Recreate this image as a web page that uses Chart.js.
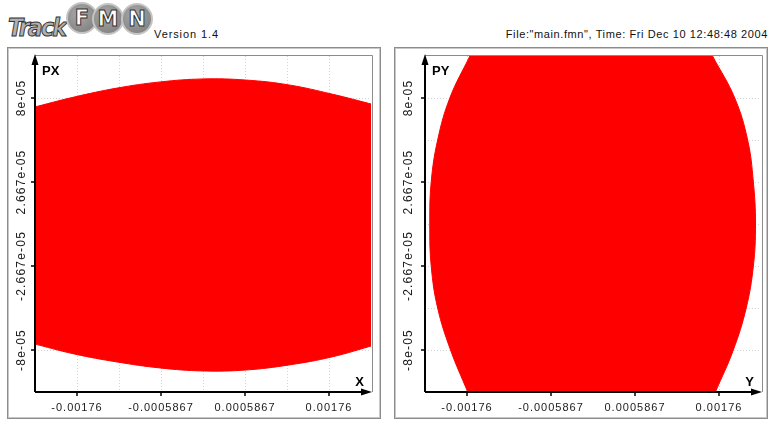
<!DOCTYPE html>
<html>
<head>
<meta charset="utf-8">
<script src="https://cdn.jsdelivr.net/npm/chart.js@4.4.0/dist/chart.umd.min.js"></script>
<style>
body { margin:0; width:769px; height:421px; background:#fff; position:relative; overflow:hidden; font-family:"Liberation Sans", Arial, sans-serif; }
.frame { position:absolute; top:47px; width:374px; height:372px; box-sizing:border-box; border:1px solid #8c8c8c; box-shadow: inset 0 0 0 1px #c8c8c8; }
canvas { position:absolute; top:47px; }
#track { position:absolute; left:8px; top:14px; font: italic 900 24px "DejaVu Sans"; color:#b0b0b0; -webkit-text-stroke:1px #333; letter-spacing:-2px; transform:scaleX(0.92); transform-origin:left; }
.ball { position:absolute; width:28px; height:28px; border-radius:50%; box-sizing:content-box; border:2px solid #c4c4c4; background:radial-gradient(circle at 40% 35%, #a8a8a8, #7a7a7a); color:#fff; font: bold 21px "DejaVu Sans"; text-align:center; line-height:28px; -webkit-text-stroke:1px #333; }
#ver { position:absolute; left:154px; top:28px; font-size:11px; letter-spacing:0.9px; color:#111; }
#file { position:absolute; right:1px; top:28px; font-size:11px; letter-spacing:0.6px; color:#111; white-space:nowrap; }
</style>
</head>
<body>
<div id="track">Track</div>
<div class="ball" style="left:66px;top:2px">F</div>
<div class="ball" style="left:92px;top:3px">M</div>
<div class="ball" style="left:121px;top:3px">N</div>
<div id="ver">Version 1.4</div>
<div id="file">File:"main.fmn", Time: Fri Dec 10 12:48:48 2004</div>

<div class="frame" style="left:7px"></div>
<div class="frame" style="left:394px"></div>
<canvas id="cx" width="374" height="372" style="left:7px"></canvas>
<canvas id="cy" width="374" height="372" style="left:394px"></canvas>

<script>
// axis range (both planes)
const xMin = -0.0023467, xMax = 0.0023467
const pMin = -1.0667e-4, pMax = 1.0667e-4

// labelled ticks
const xTicks = [-0.00176, -0.0005867, 0.0005867, 0.00176]
const xTickLabels = ['-0.00176', '-0.0005867', '0.0005867', '0.00176']
const pTicks = [-8e-05, -2.667e-05, 2.667e-05, 8e-05]
const pTickLabels = ['-8e-05', '-2.667e-05', '2.667e-05', '8e-05']

// dotted grid
const xGrid = [-0.00176, -0.0011733, -0.0005867, 0, 0.0005867, 0.0011733, 0.00176]
const pGrid = [-8e-05, -5.333e-05, -2.667e-05, 0, 2.667e-05, 5.333e-05, 8e-05]

// X / PX plane : edge of the particle cloud
const xEdge = [-0.0024, -0.0018, -0.0012, -0.0006, 0, 0.0006, 0.0012, 0.0018, 0.0024]
const pxUpper = [7.37e-5, 8.06e-5, 8.63e-5, 9.02e-5, 9.21e-5, 9.14e-5, 8.83e-5, 8.25e-5, 7.56e-5]
const pxLower = [-7.56e-5, -8.25e-5, -8.76e-5, -9.14e-5, -9.33e-5, -9.27e-5, -8.95e-5, -8.44e-5, -7.68e-5]

// Y / PY plane : edge of the particle cloud
const pyEdge = [-1.0667e-4, -8e-5, -5.333e-5, -2.667e-5, 0, 2.667e-5, 5.333e-5, 8e-5, 1.0667e-4]
const yLeft = [-0.00175, -0.00199, -0.00217, -0.00226, -0.00228, -0.00226, -0.00217, -0.00200, -0.00172]
const yRight = [0.00171, 0.00196, 0.00214, 0.00224, 0.00227, 0.00224, 0.00216, 0.00198, 0.00167]

const red = '#ff0000'

const deco = {
  id: 'deco',
  beforeDatasetsDraw(chart, args, o) {
    const {ctx, chartArea: a, scales: {x, y}} = chart
    ctx.save()
    ctx.strokeStyle = '#d2d2d2'
    ctx.lineWidth = 1
    ctx.setLineDash([1, 2])
    xGrid.forEach(v => {
      const px = Math.round(x.getPixelForValue(v)) + 0.5
      ctx.beginPath(); ctx.moveTo(px, a.top); ctx.lineTo(px, a.bottom); ctx.stroke()
    })
    pGrid.forEach(v => {
      const py = Math.round(y.getPixelForValue(v)) + 0.5
      ctx.beginPath(); ctx.moveTo(a.left, py); ctx.lineTo(a.right, py); ctx.stroke()
    })
    ctx.restore()
  },
  afterDatasetsDraw(chart, args, o) {
    const {ctx, chartArea: a, scales: {x, y}} = chart
    ctx.save()
    // grey plot frame
    ctx.strokeStyle = '#8c8c8c'
    ctx.lineWidth = 1
    ctx.beginPath()
    ctx.moveTo(a.left, a.top - 0.5)
    ctx.lineTo(a.right + 1.5, a.top - 0.5)
    ctx.lineTo(a.right + 1.5, a.bottom)
    ctx.stroke()
    // black axes
    ctx.strokeStyle = '#000'
    ctx.fillStyle = '#000'
    ctx.lineWidth = 2
    ctx.beginPath()
    ctx.moveTo(a.left, a.bottom); ctx.lineTo(a.left, a.top + 6)
    ctx.moveTo(a.left, a.bottom); ctx.lineTo(a.right - 6, a.bottom)
    ctx.stroke()
    ctx.beginPath()
    ctx.moveTo(a.left, a.top - 2); ctx.lineTo(a.left - 3.5, a.top + 9); ctx.lineTo(a.left + 3.5, a.top + 9)
    ctx.closePath(); ctx.fill()
    ctx.beginPath()
    ctx.moveTo(a.right + 1, a.bottom); ctx.lineTo(a.right - 10, a.bottom - 3.5); ctx.lineTo(a.right - 10, a.bottom + 3.5)
    ctx.closePath(); ctx.fill()
    // tick marks
    ctx.lineWidth = 1.5
    xTicks.forEach(v => {
      const px = x.getPixelForValue(v)
      ctx.beginPath(); ctx.moveTo(px, a.bottom); ctx.lineTo(px, a.bottom + 4); ctx.stroke()
    })
    pTicks.forEach(v => {
      const py = y.getPixelForValue(v)
      ctx.beginPath(); ctx.moveTo(a.left, py); ctx.lineTo(a.left - 4, py); ctx.stroke()
    })
    // tick labels
    ctx.font = '11px "Liberation Sans"'
    ctx.letterSpacing = '1px'
    ctx.fillStyle = '#1a1a1a'
    ctx.textAlign = 'center'
    ctx.textBaseline = 'middle'
    xTicks.forEach((v, i) => {
      ctx.fillText(xTickLabels[i], x.getPixelForValue(v), a.bottom + 16)
    })
    ctx.font = '12px "Liberation Sans"'
    ctx.letterSpacing = '1.2px'
    pTicks.forEach((v, i) => {
      ctx.save()
      ctx.translate(a.left - o.gap, y.getPixelForValue(v))
      ctx.rotate(-Math.PI / 2)
      ctx.fillText(pTickLabels[i], 0, 0)
      ctx.restore()
    })
    // axis titles
    ctx.letterSpacing = '0px'
    ctx.fillStyle = '#000'
    ctx.font = 'bold 13px "Liberation Sans"'
    ctx.textAlign = 'left'
    ctx.fillText(o.yTitle, a.left + 7, a.top + 15)
    ctx.textAlign = 'right'
    ctx.fillText(o.xTitle, a.right - 7, a.bottom - 10)
    ctx.restore()
  }
}

const baseScales = () => ({
  x: { type: 'linear', min: xMin, max: xMax, display: true, grid: { display: false }, border: { display: false },
       ticks: { display: false }, afterFit: s => { s.height = 27 } },
  y: { type: 'linear', min: pMin, max: pMax, display: true, grid: { display: false }, border: { display: false },
       ticks: { display: false }, afterFit: s => { s.width = 0 } }
})

// X - PX
let sx = baseScales()
sx.y.afterFit = s => { s.width = 28 }
new Chart(document.getElementById('cx'), {
  type: 'line',
  data: {
    datasets: [
      { data: xEdge.map((v, i) => ({ x: v, y: pxUpper[i] })), fill: '+1', backgroundColor: red, borderColor: red, borderWidth: 1, pointRadius: 0, tension: 0.4 },
      { data: xEdge.map((v, i) => ({ x: v, y: pxLower[i] })), fill: false, backgroundColor: red, borderColor: red, borderWidth: 1, pointRadius: 0, tension: 0.4 }
    ]
  },
  options: {
    responsive: false, animation: false, events: [],
    layout: { padding: { left: 0, right: 10, top: 9, bottom: 0 } },
    plugins: { legend: { display: false }, tooltip: { enabled: false }, deco: { xTitle: 'X', yTitle: 'PX', gap: 13 } },
    scales: sx
  },
  plugins: [deco]
})

// Y - PY
let sy = baseScales()
sy.y.afterFit = s => { s.width = 31 }
new Chart(document.getElementById('cy'), {
  type: 'line',
  data: {
    datasets: [
      { data: pyEdge.map((v, i) => ({ x: yLeft[i], y: v })), fill: '+1', backgroundColor: red, borderColor: red, borderWidth: 1, pointRadius: 0, tension: 0.4 },
      { data: pyEdge.map((v, i) => ({ x: yRight[i], y: v })), fill: false, backgroundColor: red, borderColor: red, borderWidth: 1, pointRadius: 0, tension: 0.4 }
    ]
  },
  options: {
    indexAxis: 'y',
    responsive: false, animation: false, events: [],
    layout: { padding: { left: 0, right: 7, top: 9, bottom: 0 } },
    plugins: { legend: { display: false }, tooltip: { enabled: false }, deco: { xTitle: 'Y', yTitle: 'PY', gap: 16 } },
    scales: sy
  },
  plugins: [deco]
})
</script>
</body>
</html>
